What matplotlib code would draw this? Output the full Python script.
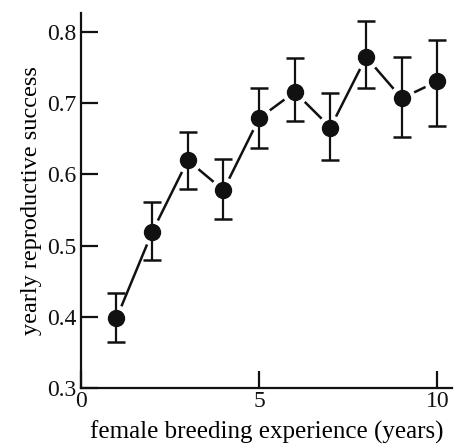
import matplotlib
matplotlib.use("Agg")
import matplotlib.pyplot as plt

# breeding experience (years) vs yearly reproductive success
years = [1, 2, 3, 4, 5, 6, 7, 8, 9, 10]
success = [0.398, 0.519, 0.620, 0.578, 0.679, 0.716, 0.666, 0.765, 0.707, 0.731]
err_hi = [0.433, 0.561, 0.659, 0.622, 0.721, 0.763, 0.715, 0.816, 0.765, 0.789]
err_lo = [0.365, 0.480, 0.579, 0.538, 0.637, 0.675, 0.620, 0.721, 0.652, 0.668]

plt.rcParams['font.family'] = ['Liberation Serif', 'DejaVu Serif']

fig = plt.figure(figsize=(4.54, 4.45), dpi=100)
ax = fig.add_axes([0.178, 0.128, 0.817, 0.843])

lower = [s - l for s, l in zip(success, err_lo)]
upper = [h - s for s, h in zip(success, err_hi)]

# connecting line, broken near each point by white halos
ax.plot(years, success, color='#111111', lw=1.8, zorder=1)
ax.plot(years, success, 'o', color='white', ms=18, zorder=2)
ax.errorbar(years, success, yerr=[lower, upper], fmt='none', ecolor='#111111',
            elinewidth=1.6, capsize=6.5, capthick=1.8, zorder=3)
ax.plot(years, success, 'o', color='#111111', ms=11.5, zorder=4)

ax.set_xlim(0, 10.4)
ax.set_ylim(0.3, 0.827)
ax.set_xticks([0, 5, 10])
ax.set_yticks([0.3, 0.4, 0.5, 0.6, 0.7, 0.8])
ax.set_yticklabels(['0.3', '0.4', '0.5', '0.6', '0.7', '0.8'])

for s in ['top', 'right']:
    ax.spines[s].set_visible(False)
for s in ['left', 'bottom']:
    ax.spines[s].set_linewidth(1.6)
    ax.spines[s].set_color('#111111')

ax.tick_params(direction='in', length=12, width=1.6, labelsize=17, colors='#111111')
ax.tick_params(axis='x', pad=2)
ax.tick_params(axis='y', pad=3)

ax.set_xlabel('female breeding experience (years)', fontsize=18, labelpad=6)
ax.set_ylabel('yearly reproductive success', fontsize=17.5, labelpad=4)

fig.savefig('out.png', dpi=100)
